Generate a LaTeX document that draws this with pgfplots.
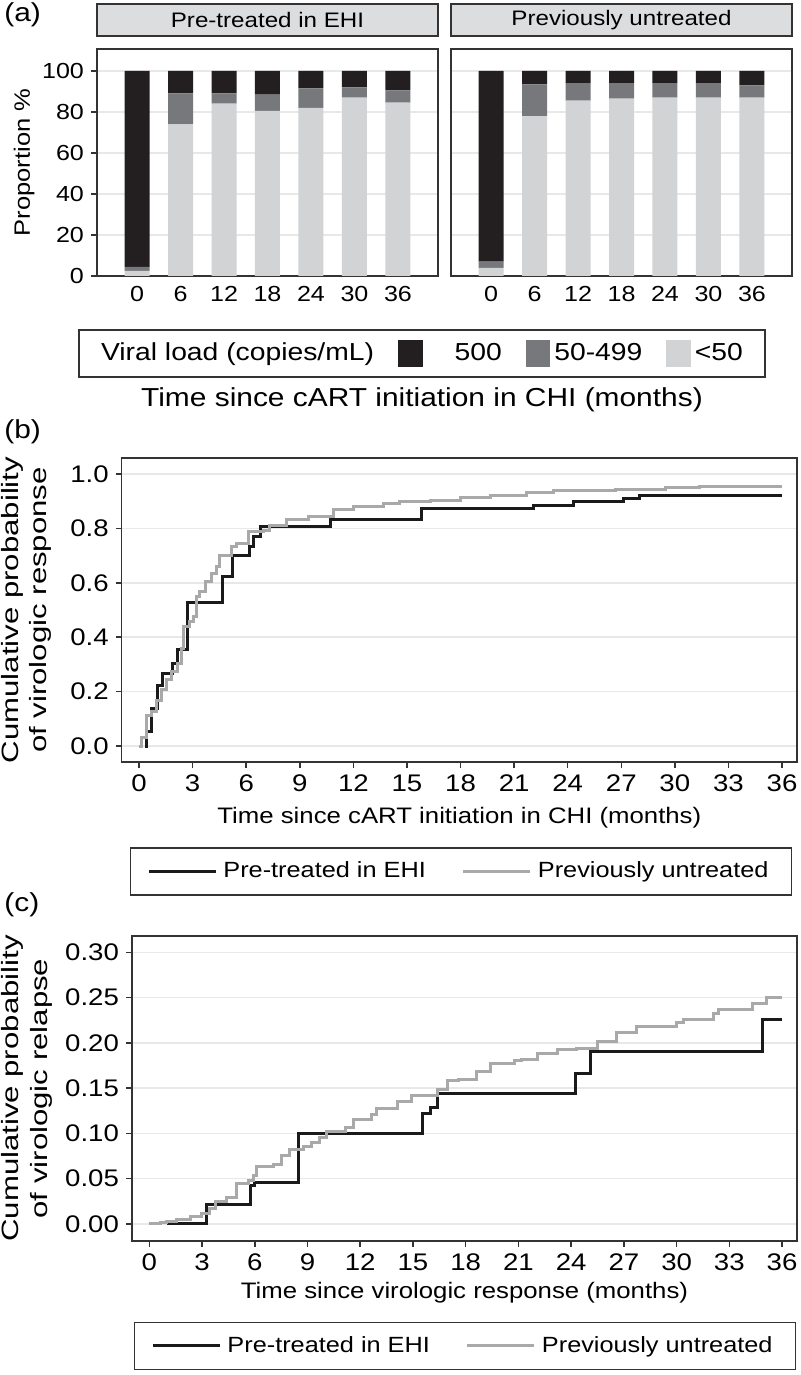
\documentclass[border=0pt]{standalone}
\usepackage{fontspec}
\setmainfont{Liberation Sans}[FakeStretch=1.15]
\newfontfamily\widefont{Liberation Sans}[FakeStretch=1.32]
\usepackage{pgfplots}
\pgfplotsset{compat=1.18}
\definecolor{vblack}{HTML}{231F20}
\definecolor{vmid}{HTML}{77787B}
\definecolor{vlight}{HTML}{D1D3D4}
\definecolor{stripc}{HTML}{DCDDDE}
\definecolor{gridc}{HTML}{E8E8E8}
\definecolor{axc}{HTML}{333333}
\definecolor{kmblack}{HTML}{1A1A1A}
\definecolor{kmgrey}{HTML}{A9A9A9}
\pgfplotsset{
  base/.style={scale only axis, axis line style={axc, line width=0.75pt},
    tick style={axc, line width=0.75pt}, major tick length=3pt, tick align=outside,
    /pgf/number format/assume math mode=true,
    ymajorgrids, grid style={gridc, line width=0.75pt}},
  barpanel/.style={base, anchor=south west, width=170.5pt, height=113.5pt,
    ybar stacked, bar width=12.5pt, xmin=-0.92, xmax=6.92, ymin=0, ymax=110.7,
    xtick={0,1,2,3,4,5,6}, xticklabels={0,6,12,18,24,30,36},
    xtick style={draw=none}, ytick={0,20,40,60,80,100},
    tick label style={font=\fontsize{10.9pt}{13pt}\selectfont},
    xticklabel style={yshift=1.5pt},
    title style={at={(axis description cs:0.5,1)}, anchor=south, fill=stripc,
      draw=axc, line width=0.75pt, minimum width=170.5pt, minimum height=16pt,
      inner sep=0pt, font=\fontsize{10.5pt}{12pt}\selectfont}},
  kmpanel/.style={base, anchor=south west, xtick={0,3,...,36}, xtick pos=bottom, ytick pos=left,
    tick label style={font=\fontsize{12pt}{14pt}\selectfont},
    xlabel style={font=\fontsize{11.2pt}{13pt}\selectfont, anchor=center},
    ylabel style={font=\widefont\fontsize{11.8pt}{14.4pt}\selectfont, align=center, anchor=center},
    legend columns=2,
    legend image code/.code={\draw[##1] (0pt,0pt) -- (33.5pt,0pt);},
    legend style={draw=axc, line width=0.75pt, anchor=center,
      font=\fontsize{11pt}{13pt}\selectfont, inner xsep=8.5pt, inner ysep=4pt,
      nodes={inner sep=3pt},
      /tikz/every even column/.append style={column sep=15pt}}}
}
\begin{document}
\begin{tikzpicture}
\path[use as bounding box] (0pt,0pt) rectangle (400pt,-687.5pt);
% ---------- panel (a) ----------
\node[anchor=north west, font=\fontsize{13pt}{15pt}\selectfont, inner sep=0pt] at (2pt,-1pt) {(a)};
\begin{axis}[barpanel, at={(48.5pt,-138pt)}, ytick pos=left,
  ylabel={Proportion \%},
  ylabel style={at={(axis description cs:-0.214,0.5)}, anchor=center, font=\fontsize{11.1pt}{13pt}\selectfont},
  title={Pre-treated in EHI}]
\addplot[fill=vlight, draw=none] coordinates {(0,2.5) (1,74) (2,84) (3,80.5) (4,82) (5,87) (6,84.5)};
\addplot[fill=vmid, draw=none] coordinates {(0,2) (1,15) (2,5) (3,8) (4,9.5) (5,5) (6,6)};
\addplot[fill=vblack, draw=none] coordinates {(0,95.5) (1,11) (2,11) (3,11.5) (4,8.5) (5,8) (6,9.5)};
\end{axis}
\begin{axis}[barpanel, at={(225.5pt,-138pt)}, yticklabels={}, ytick style={draw=none},
  title={Previously untreated}]
\addplot[fill=vlight, draw=none] coordinates {(0,4) (1,78) (2,85.5) (3,86.5) (4,87) (5,87) (6,87)};
\addplot[fill=vmid, draw=none] coordinates {(0,3) (1,15.5) (2,8.5) (3,7.5) (4,7) (5,7) (6,6)};
\addplot[fill=vblack, draw=none] coordinates {(0,93) (1,6.5) (2,6) (3,6) (4,6) (5,6) (6,7)};
\end{axis}
\begin{axis}[at={(211pt,-176.75pt)}, anchor=center, width=1pt, height=1pt, scale only axis,
  hide axis, xmin=0, xmax=1, ymin=0, ymax=1, legend columns=4, legend cell align=left,
  legend style={at={(0.5,0.5)}, anchor=center, draw=axc, line width=0.75pt,
    font=\fontsize{12.3pt}{14pt}\selectfont, inner xsep=9pt, inner ysep=4.5pt,
    /tikz/every even column/.append style={column sep=10pt}}]
\addlegendimage{empty legend}\addlegendentry{Viral load (copies/mL)}
\addlegendimage{legend image code/.code={\fill[vblack] (0pt,-6.25pt) rectangle (11.5pt,6.25pt);}}\addlegendentry{\hspace{14pt}500}
\addlegendimage{legend image code/.code={\fill[vmid] (0pt,-6.25pt) rectangle (11.5pt,6.25pt);}}\addlegendentry{50-499}
\addlegendimage{legend image code/.code={\fill[vlight] (0pt,-6.25pt) rectangle (11.5pt,6.25pt);}}\addlegendentry{<50}
\end{axis}
\node[font=\fontsize{13pt}{15pt}\selectfont] at (211pt,-200pt) {Time since cART initiation in CHI (months)};
% ---------- panel (b) ----------
\node[anchor=north west, font=\fontsize{13pt}{15pt}\selectfont, inner sep=0pt] at (2pt,-209.5pt) {(b)};
\begin{axis}[kmpanel, at={(60.85pt,-381pt)}, width=337.65pt, height=152pt,
  xmin=-0.97, xmax=36.84, ymin=-0.0588, ymax=1.0588,
  ytick={0,0.2,0.4,0.6,0.8,1},
  yticklabel style={/pgf/number format/.cd, fixed, fixed zerofill, precision=1},
  xlabel={Time since cART initiation in CHI (months)},
  xlabel style={at={(axis description cs:0.5,-0.184)}},
  ylabel={Cumulative probability\\of virologic response},
  ylabel style={at={(axis description cs:-0.141,0.5)}},
  legend style={at={(axis description cs:0.5024,-0.360)}}]
\addplot[const plot, kmblack, line width=1.5pt] coordinates {
(0.34,0) (0.40,0.053) (0.71,0.139) (1.03,0.224) (1.33,0.266) (1.89,0.304) (2.17,0.353)
(2.73,0.527) (4.67,0.623) (5.25,0.70) (6.2,0.733) (6.4,0.769) (6.78,0.806) (10.7,0.831)
(15.8,0.874) (22.1,0.883) (24.3,0.898) (27.1,0.910) (28.0,0.922) (36,0.922)};
\addlegendentry{Pre-treated in EHI}
\addplot[const plot, kmgrey, line width=1.5pt] coordinates {
(0,0) (0.15,0.032) (0.43,0.113) (0.71,0.126) (0.98,0.169) (1.27,0.206) (1.55,0.243)
(1.83,0.273) (2.14,0.304) (2.39,0.359) (2.48,0.439) (2.85,0.457) (3.04,0.476) (3.23,0.55)
(3.41,0.568) (3.7,0.604) (4.07,0.635) (4.35,0.66) (4.53,0.70) (5.19,0.733) (5.47,0.745)
(6.12,0.788) (6.96,0.794) (7.33,0.812) (8.27,0.831) (9.48,0.845) (10.9,0.868) (12.0,0.880)
(13.7,0.890) (14.6,0.898) (16.3,0.904) (18.0,0.913) (19.7,0.922) (21.7,0.931) (23.2,0.938)
(26.7,0.943) (29.5,0.951) (31.4,0.955) (36,0.955)};
\addlegendentry{Previously untreated}
\end{axis}
% ---------- panel (c) ----------
\node[anchor=north west, font=\fontsize{13pt}{15pt}\selectfont, inner sep=0pt] at (2pt,-446pt) {(c)};
\begin{axis}[kmpanel, at={(66pt,-620.5pt)}, width=332.5pt, height=152.5pt,
  xmin=-0.984, xmax=36.85, ymin=-0.0188, ymax=0.318,
  ytick={0,0.05,0.1,0.15,0.2,0.25,0.3},
  yticklabel style={/pgf/number format/.cd, fixed, fixed zerofill, precision=2},
  xlabel={Time since virologic response (months)},
  xlabel style={at={(axis description cs:0.5,-0.170)}},
  ylabel={Cumulative probability\\of virologic relapse},
  ylabel style={at={(axis description cs:-0.158,0.5)}},
  legend style={at={(axis description cs:0.5008,-0.344)}}]
\addplot[const plot, kmblack, line width=1.5pt] coordinates {
(1.0,0) (3.26,0.021) (5.73,0.042) (6.0,0.046) (8.48,0.10) (15.56,0.122) (15.98,0.129)
(16.4,0.144) (24.27,0.166) (25.1,0.191) (34.87,0.226) (36,0.226)};
\addlegendentry{Pre-treated in EHI}
\addplot[const plot, kmgrey, line width=1.5pt] coordinates {
(0,0) (0.61,0.0013) (0.99,0.0025) (1.56,0.005) (2.32,0.008) (2.98,0.0116) (3.45,0.017)
(3.74,0.025) (4.4,0.029) (4.97,0.045) (5.64,0.048) (5.92,0.053) (6.11,0.064) (7.06,0.066)
(7.53,0.076) (8.0,0.082) (8.76,0.086) (9.24,0.090) (9.71,0.096) (10.1,0.102) (11.14,0.107)
(11.6,0.115) (12.65,0.121) (12.9,0.127) (14.1,0.135) (14.9,0.142) (16.4,0.148) (16.96,0.158)
(17.6,0.160) (18.6,0.168) (19.4,0.177) (20.8,0.181) (21.2,0.182) (22.1,0.188) (23.2,0.193)
(24.3,0.194) (25.5,0.202) (26.6,0.212) (27.7,0.218) (30.0,0.222) (30.4,0.226) (32.1,0.232)
(32.4,0.237) (34.3,0.244) (35.1,0.25) (36,0.25)};
\addlegendentry{Previously untreated}
\end{axis}
\end{tikzpicture}
\end{document}
